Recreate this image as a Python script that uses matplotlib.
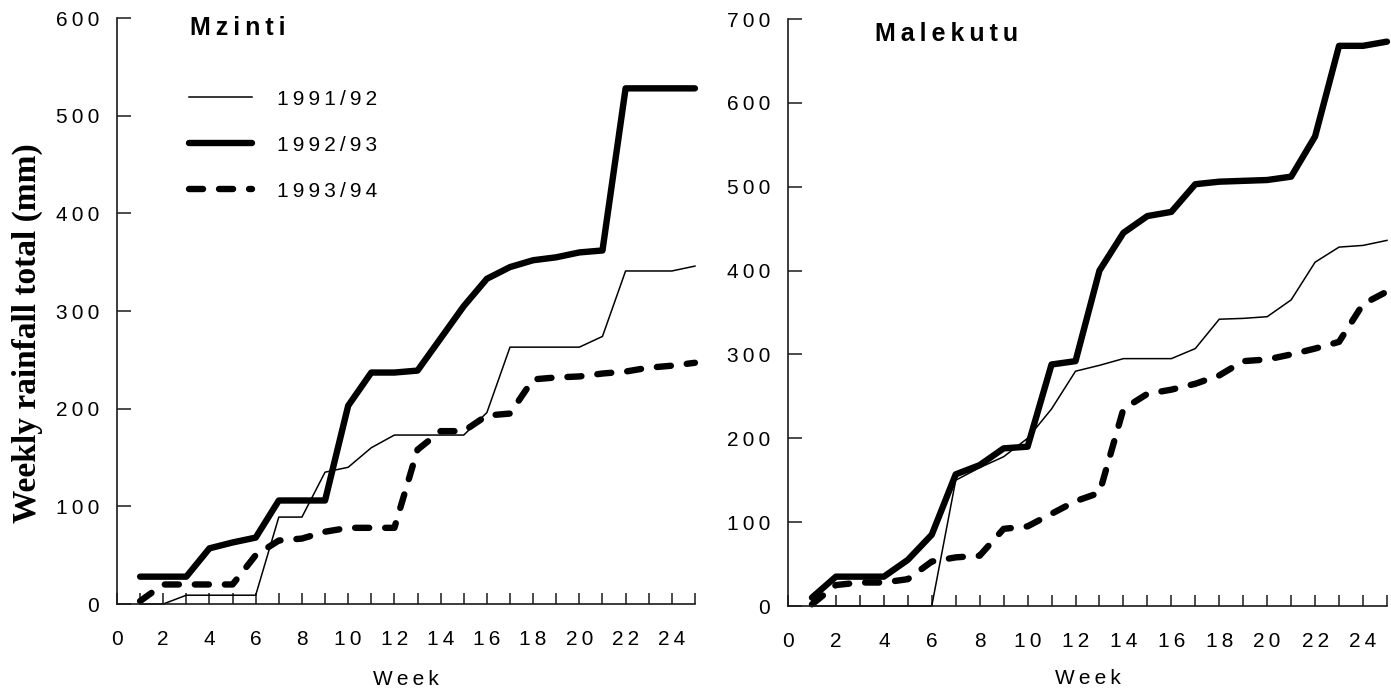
import matplotlib
matplotlib.use("Agg")
import matplotlib.pyplot as plt
from matplotlib.ticker import FixedLocator, FuncFormatter

plt.rcParams['font.family'] = ['Liberation Sans', 'DejaVu Sans']

# weekly cumulative rainfall (mm), weeks 1-25
weeks = list(range(1, 26))

mzinti_9192 = [0, 0, 9, 9, 9, 9, 89, 89, 135, 140, 160, 173, 173, 173, 173,
               196, 263, 263, 263, 263, 274, 341, 341, 341, 346]
mzinti_9293 = [28, 28, 28, 57, 63, 68, 106, 106, 106, 203, 237, 237, 239, 272, 305,
               333, 345, 352, 355, 360, 362, 528, 528, 528, 528]
mzinti_9394 = [3, 20, 20, 20, 20, 50, 65, 67, 74, 78, 78, 78, 158, 177, 177,
               193, 195, 230, 232, 233, 236, 238, 242, 244, 247]

malekutu_9192 = [0, 0, 0, 0, 0, 0, 150, 165, 178, 200, 235, 280, 287, 295, 295,
                 295, 307, 342, 343, 345, 365, 410, 428, 430, 436]
malekutu_9293 = [10, 35, 35, 35, 55, 85, 157, 168, 188, 190, 288, 292, 400, 445, 465,
                 470, 503, 506, 507, 508, 512, 560, 668, 668, 673]
malekutu_9394 = [2, 25, 28, 28, 32, 53, 58, 60, 92, 95, 110, 125, 135, 235, 253,
                 258, 265, 275, 292, 294, 300, 307, 315, 360, 375]

seasons = ['1991/92', '1992/93', '1993/94']

TS = '\u2009'  # thin space used to track the lettering


def spaced(s):
    return TS.join(s)


def style_axes(ax, ymax, labelpad):
    ax.set_xlim(0, 25)
    ax.set_ylim(0, ymax)
    for side in ('top', 'right'):
        ax.spines[side].set_visible(False)
    for side in ('left', 'bottom'):
        ax.spines[side].set_linewidth(1.2)
        ax.spines[side].set_color('#1a1a1a')
    ax.xaxis.set_major_locator(FixedLocator(range(0, 26)))
    ax.xaxis.set_major_formatter(FuncFormatter(
        lambda v, p: spaced(str(int(v))) if int(v) % 2 == 0 and v <= 24 else ''))
    ax.yaxis.set_major_locator(FixedLocator(range(0, ymax + 1, 100)))
    ax.yaxis.set_major_formatter(FuncFormatter(lambda v, p: spaced(str(int(v)))))
    ax.tick_params(axis='x', direction='in', length=8, width=1.1, pad=19,
                   labelsize=15, color='#1a1a1a')
    ax.tick_params(axis='y', direction='in', length=10, width=1.1, pad=13,
                   labelsize=15, color='#1a1a1a')
    ax.set_xlabel(spaced('Week'), fontsize=15, labelpad=labelpad)


def draw_series(ax, s1, s2, s3):
    l1, = ax.plot(weeks, s1, color='black', lw=1.1, clip_on=False)
    l2, = ax.plot(weeks, s2, color='black', lw=4.6, solid_joinstyle='round',
                  solid_capstyle='round', clip_on=False)
    l3, = ax.plot(weeks, s3, color='black', lw=4.6, dashes=(2.2, 2.5),
                  dash_capstyle='round', dash_joinstyle='round', clip_on=False)
    return [l1, l2, l3]


fig = plt.figure(figsize=(13.91, 6.91), dpi=100)
ax1 = fig.add_axes([0.0841, 0.1259, 0.4155, 0.848])
ax2 = fig.add_axes([0.5665, 0.123, 0.4306, 0.8495])

handles = draw_series(ax1, mzinti_9192, mzinti_9293, mzinti_9394)
draw_series(ax2, malekutu_9192, malekutu_9293, malekutu_9394)

style_axes(ax1, 600, 15)
style_axes(ax2, 700, 13)

ax1.text(0.126, 0.983, spaced('Mzinti'), transform=ax1.transAxes,
         fontsize=18, fontweight='bold', va='center', ha='left')
ax2.text(0.145, 0.975, spaced('Malekutu'), transform=ax2.transAxes,
         fontsize=18, fontweight='bold', va='center', ha='left')

ax1.legend(handles, [spaced(s) for s in seasons], loc='upper left',
           bbox_to_anchor=(0.125, 0.878), frameon=False, fontsize=15,
           handlelength=3.0, handletextpad=1.2, labelspacing=1.3,
           borderpad=0, borderaxespad=0)

fig.text(0.0194, 1 - 333 / 691, 'Weekly rainfall total (mm)', rotation=90,
         ha='center', va='center', fontsize=24, fontweight='bold',
         family=['Liberation Serif', 'DejaVu Serif'])

fig.savefig('out.png', dpi=100)
